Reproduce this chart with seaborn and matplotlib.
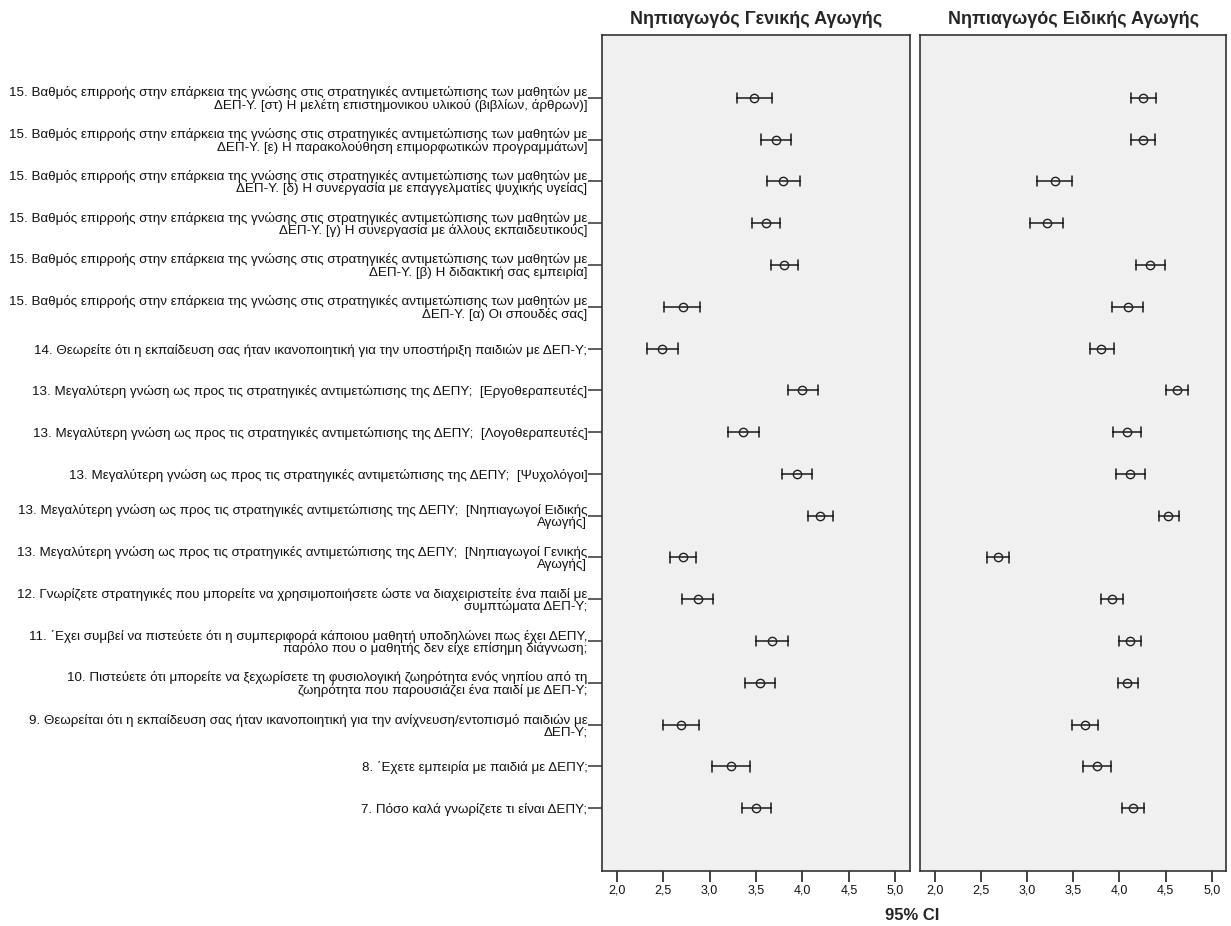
import numpy as np
import pandas as pd
import seaborn as sns
from matplotlib import pyplot as plt

# κατηγορίες (από πάνω προς τα κάτω)
questions = [
    "15. Βαθμός επιρροής στην επάρκεια της γνώσης στις στρατηγικές αντιμετώπισης των μαθητών με\nΔΕΠ-Υ. [στ) Η μελέτη επιστημονικου υλικού (βιβλίων, άρθρων)]",
    "15. Βαθμός επιρροής στην επάρκεια της γνώσης στις στρατηγικές αντιμετώπισης των μαθητών με\nΔΕΠ-Υ. [ε) Η παρακολούθηση επιμορφωτικών προγραμμάτων]",
    "15. Βαθμός επιρροής στην επάρκεια της γνώσης στις στρατηγικές αντιμετώπισης των μαθητών με\nΔΕΠ-Υ. [δ) Η συνεργασία με επαγγελματίες ψυχικής υγείας]",
    "15. Βαθμός επιρροής στην επάρκεια της γνώσης στις στρατηγικές αντιμετώπισης των μαθητών με\nΔΕΠ-Υ. [γ) Η συνεργασία με άλλους εκπαιδευτικούς]",
    "15. Βαθμός επιρροής στην επάρκεια της γνώσης στις στρατηγικές αντιμετώπισης των μαθητών με\nΔΕΠ-Υ. [β) Η διδακτική σας εμπειρία]",
    "15. Βαθμός επιρροής στην επάρκεια της γνώσης στις στρατηγικές αντιμετώπισης των μαθητών με\nΔΕΠ-Υ. [α) Οι σπουδές σας]",
    "14. Θεωρείτε ότι η εκπαίδευση σας ήταν ικανοποιητική για την υποστήριξη παιδιών με ΔΕΠ-Υ;",
    "13. Μεγαλύτερη γνώση ως προς τις στρατηγικές αντιμετώπισης της ΔΕΠΥ;  [Εργοθεραπευτές]",
    "13. Μεγαλύτερη γνώση ως προς τις στρατηγικές αντιμετώπισης της ΔΕΠΥ;  [Λογοθεραπευτές]",
    "13. Μεγαλύτερη γνώση ως προς τις στρατηγικές αντιμετώπισης της ΔΕΠΥ;  [Ψυχολόγοι]",
    "13. Μεγαλύτερη γνώση ως προς τις στρατηγικές αντιμετώπισης της ΔΕΠΥ;  [Νηπιαγωγοί Ειδικής\nΑγωγής]",
    "13. Μεγαλύτερη γνώση ως προς τις στρατηγικές αντιμετώπισης της ΔΕΠΥ;  [Νηπιαγωγοί Γενικής\nΑγωγής]",
    "12. Γνωρίζετε στρατηγικές που μπορείτε να χρησιμοποιήσετε ώστε να διαχειριστείτε ένα παιδί με\nσυμπτώματα ΔΕΠ-Υ;",
    "11. ΄Εχει συμβεί να πιστεύετε ότι η συμπεριφορά κάποιου μαθητή υποδηλώνει πως έχει ΔΕΠΥ,\nπαρόλο που ο μαθητής δεν είχε επίσημη διάγνωση;",
    "10. Πιστεύετε ότι μπορείτε να ξεχωρίσετε τη φυσιολογική ζωηρότητα ενός νηπίου από τη\nζωηρότητα που παρουσιάζει ένα παιδί με ΔΕΠ-Υ;",
    "9. Θεωρείται ότι η εκπαίδευση σας ήταν ικανοποιητική για την ανίχνευση/εντοπισμό παιδιών με\nΔΕΠ-Υ;",
    "8. ΄Εχετε εμπειρία με παιδιά με ΔΕΠΥ;",
    "7. Πόσο καλά γνωρίζετε τι είναι ΔΕΠΥ;",
]

groups = ["Νηπιαγωγός Γενικής Αγωγής", "Νηπιαγωγός Ειδικής Αγωγής"]

# Νηπιαγωγός Γενικής Αγωγής: μέσος όρος και 95% CI
gen_mean = [3.48, 3.72, 3.79, 3.61, 3.80, 2.71, 2.49, 4.00, 3.36,
            3.94, 4.19, 2.71, 2.87, 3.67, 3.54, 2.69, 3.23, 3.50]
gen_lo = [3.29, 3.55, 3.62, 3.46, 3.66, 2.51, 2.32, 3.84, 3.20,
          3.78, 4.06, 2.57, 2.70, 3.50, 3.38, 2.50, 3.03, 3.35]
gen_hi = [3.67, 3.88, 3.97, 3.76, 3.95, 2.90, 2.66, 4.17, 3.53,
          4.10, 4.33, 2.85, 3.04, 3.84, 3.70, 2.88, 3.43, 3.66]

# Νηπιαγωγός Ειδικής Αγωγής
spe_mean = [4.26, 4.26, 3.30, 3.21, 4.33, 4.09, 3.80, 4.62, 4.08,
            4.11, 4.53, 2.68, 3.92, 4.11, 4.08, 3.63, 3.76, 4.15]
spe_lo = [4.13, 4.12, 3.11, 3.03, 4.18, 3.92, 3.68, 4.50, 3.93,
          3.96, 4.43, 2.57, 3.80, 3.99, 3.98, 3.49, 3.61, 4.03]
spe_hi = [4.40, 4.39, 3.49, 3.39, 4.49, 4.26, 3.94, 4.74, 4.23,
          4.28, 4.65, 2.80, 4.04, 4.23, 4.20, 3.77, 3.91, 4.27]

xticks = [2.0, 2.5, 3.0, 3.5, 4.0, 4.5, 5.0]
xtick_labels = ["2,0", "2,5", "3,0", "3,5", "4,0", "4,5", "5,0"]

sns.set_style("white")
plt.rcParams['font.family'] = ['Liberation Sans', 'DejaVu Sans']

# μακριά μορφή: κάθε ερώτηση έχει lo, mean, hi -> median = mean, range = CI
def long_frame(lo, mean, hi):
    rows = []
    for q, a, m, b in zip(questions, lo, mean, hi):
        for v in (a, m, b):
            rows.append({"question": q, "value": v})
    return pd.DataFrame(rows)

frames = [long_frame(gen_lo, gen_mean, gen_hi), long_frame(spe_lo, spe_mean, spe_hi)]

fig = plt.figure(figsize=(12.31, 9.26), dpi=100)
axes = [fig.add_axes([0.489, 0.0594, 0.250, 0.9028]),
        fig.add_axes([0.7474, 0.0594, 0.2486, 0.9028])]

edge = "#333333"
for i, ax in enumerate(axes):
    sns.pointplot(data=frames[i], x="value", y="question", order=questions,
                  estimator="median", errorbar=lambda v: (v.min(), v.max()),
                  orient="h", linestyle="none", markers="o", color="#222222",
                  markersize=6, markerfacecolor="none", markeredgewidth=1.0,
                  capsize=0.24, err_kws={"linewidth": 1.15}, ax=ax)
    ax.set_facecolor("#f0f0f0")
    ax.set_xlim(1.84, 5.155)
    ax.set_ylim(18.5, -1.5)
    ax.set_xticks(xticks)
    ax.set_xticklabels(xtick_labels, fontsize=9, color="#111111")
    ax.set_xlabel("")
    ax.set_ylabel("")
    for s in ax.spines.values():
        s.set_visible(True)
        s.set_color(edge)
        s.set_linewidth(1.2)
    ax.tick_params(axis="x", direction="out", length=8, width=1.3, color=edge,
                   bottom=True, pad=1.5)
    ax.set_title(groups[i], fontsize=13, fontweight="bold", pad=8)

axes[0].tick_params(axis="y", direction="out", length=10, width=1.1, color=edge,
                    left=True, labelsize=9.6, pad=0.5, labelcolor="#111111")
for lab in axes[0].get_yticklabels():
    lab.set_multialignment("right")
    lab.set_linespacing(0.95)
axes[1].set_yticks([])

fig.text(0.741, 0.003, "95% CI", ha="center", va="bottom", fontsize=12,
         fontweight="bold")

plt.savefig("out.png", dpi=100)
